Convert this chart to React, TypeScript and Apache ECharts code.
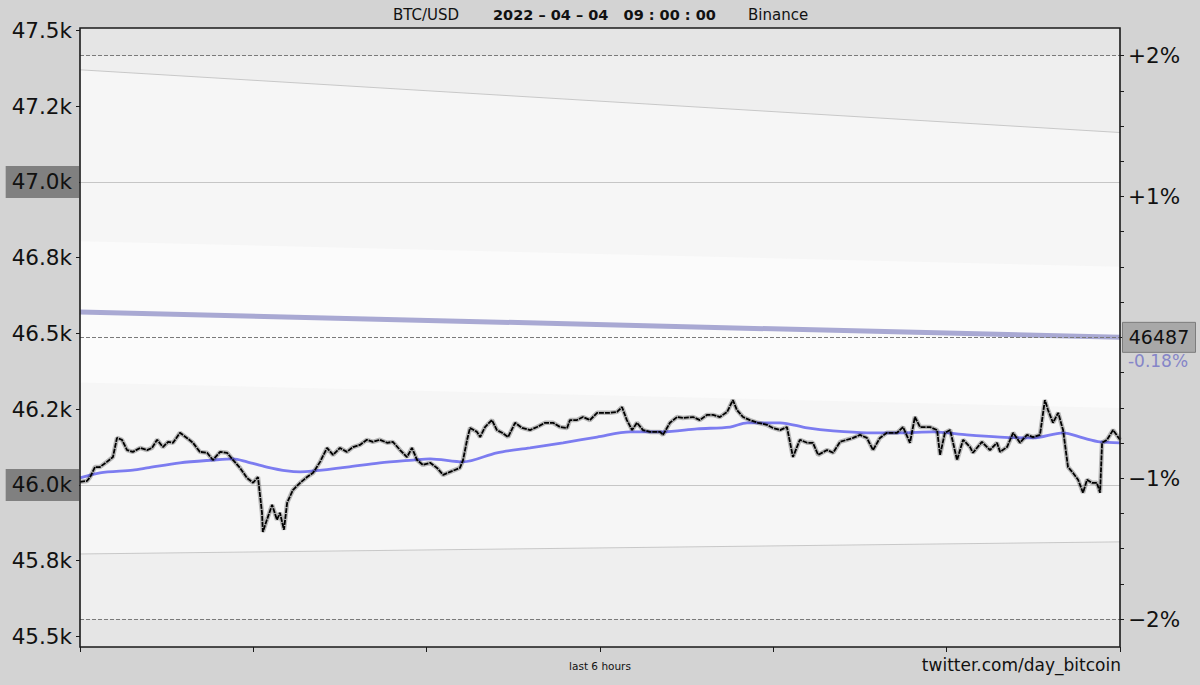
import React, { useEffect, useRef } from "react";
import * as echarts from "echarts";

// ---------- texts ----------
const PAIR = "BTC/USD";
const DATE_TEXT = "2022 – 04 – 04   09 : 00 : 00";
const EXCHANGE = "Binance";
const X_LABEL = "last 6 hours";
const CREDIT = "twitter.com/day_bitcoin";

// ---------- axes ----------
const Y_MIN = 45465;
const Y_MAX = 47508;
const PRICE_TICKS = [45500, 45750, 46000, 46250, 46500, 46750, 47000, 47250, 47500];
const PRICE_TICK_LABELS = ["45.5k", "45.8k", "46.0k", "46.2k", "46.5k", "46.8k", "47.0k", "47.2k", "47.5k"];
const HIGHLIGHT_TICKS = [46000, 47000];
const REF_PRICE = 46487;
const REF_CHANGE = "-0.18%";
const PCT_TICKS = [-2, -1.75, -1.5, -1.25, -1, -0.75, -0.5, -0.25, 0, 0.25, 0.5, 0.75, 1, 1.25, 1.5, 1.75, 2];
const PCT_LABEL_VALUES = [-2, -1, 1, 2];
const PCT_LABELS = ["−2%", "−1%", "+1%", "+2%"];
const HOUR_TICKS = [0, 60, 120, 180, 240, 300, 360];

// ---------- price (minutes into the 6 hour window) ----------
const priceMinutes = [
  0, 2.4, 3.5, 5.2, 6.9, 9.3, 11.4, 12.8, 14.5, 16.3,
  18.3, 20.8, 23.2, 24.9, 26.7, 28.7, 30.5, 32.2, 34.6, 37.0,
  39.1, 41.5, 44.0, 46.0, 48.5, 50.9, 53.0, 55.4, 57.8, 59.9,
  61.6, 63.0, 63.3, 64.7, 66.5, 68.2, 69.2, 70.6, 71.7, 73.7,
  76.2, 78.6, 80.7, 83.1, 85.5, 87.6, 90.0, 92.4, 94.5, 96.9,
  99.3, 101.4, 103.8, 106.3, 108.3, 110.8, 113.2, 114.9, 116.7, 118.7,
  121.2, 123.6, 125.7, 128.1, 131.5, 132.6, 134.0, 135.0, 137.4, 138.5,
  140.2, 142.6, 144.3, 146.1, 148.2, 150.6, 153.0, 155.8, 158.2, 161.0,
  163.7, 166.2, 168.6, 169.6, 172.0, 174.1, 176.5, 179.0, 181.0, 183.5,
  185.9, 187.6, 189.3, 191.1, 192.8, 194.9, 197.3, 200.8, 201.8, 204.2,
  206.7, 208.7, 212.2, 214.6, 217.0, 219.1, 221.5, 224.0, 226.0, 227.4,
  229.5, 231.9, 234.7, 237.8, 239.9, 242.3, 244.7, 245.8, 246.8, 249.2,
  251.7, 253.7, 255.5, 258.6, 260.7, 263.1, 265.5, 267.6, 270.0, 272.4,
  274.5, 276.9, 279.3, 282.8, 284.9, 287.3, 289.0, 290.8, 294.2, 296.7,
  297.7, 299.4, 301.2, 303.6, 305.7, 308.1, 309.1, 312.2, 315.0, 317.4,
  318.5, 320.9, 323.0, 325.4, 327.8, 329.9, 332.3, 334.0, 335.1, 336.8,
  338.6, 340.3, 342.0, 343.7, 345.5, 347.2, 348.6, 350.3, 352.0, 353.1,
  353.8, 355.5, 357.6, 360,
];
const prices = [
  46010, 46013, 46026, 46059, 46059, 46076, 46092, 46155, 46149, 46115,
  46109, 46122, 46115, 46122, 46149, 46125, 46142, 46139, 46172, 46155,
  46139, 46109, 46106, 46082, 46109, 46106, 46082, 46056, 46023, 46007,
  46026, 45908, 45845, 45885, 45934, 45885, 45908, 45852, 45941, 45983,
  46007, 46026, 46040, 46076, 46122, 46099, 46122, 46109, 46125, 46132,
  46149, 46142, 46149, 46139, 46142, 46115, 46092, 46122, 46082, 46066,
  46073, 46056, 46033, 46043, 46056, 46082, 46149, 46188, 46175, 46158,
  46191, 46214, 46181, 46172, 46158, 46205, 46188, 46181, 46191, 46205,
  46205, 46191, 46188, 46214, 46214, 46224, 46214, 46238, 46238, 46238,
  46241, 46257, 46214, 46181, 46205, 46181, 46175, 46175, 46165, 46205,
  46224, 46221, 46224, 46214, 46231, 46231, 46224, 46241, 46280, 46247,
  46224, 46214, 46205, 46198, 46188, 46181, 46191, 46139, 46092, 46149,
  46139, 46139, 46099, 46115, 46106, 46142, 46149, 46155, 46165, 46155,
  46115, 46155, 46172, 46172, 46191, 46139, 46224, 46191, 46191, 46181,
  46099, 46172, 46181, 46082, 46149, 46125, 46106, 46142, 46115, 46139,
  46109, 46125, 46172, 46139, 46165, 46158, 46165, 46280, 46247, 46205,
  46238, 46181, 46059, 46040, 46017, 45974, 46017, 46007, 46007, 45974,
  46139, 46149, 46181, 46149,
];

// ---------- moving average ----------
const maMinutes = [
  0, 6.9, 18.3, 23.2, 34.6, 46.0, 53.0, 57.8, 64.7, 71.7,
  76.2, 80.7, 92.4, 103.8, 115.3, 121.2, 132.6, 144.3, 155.8, 167.2,
  179.0, 190.4, 201.8, 213.6, 225.0, 230.9, 242.3, 251.7, 260.7, 272.4,
  283.8, 295.3, 307.0, 318.5, 329.9, 340.3, 347.2, 353.1, 360,
];
const maValues = [
  46023, 46040, 46049, 46056, 46073, 46082, 46086, 46076, 46059, 46046,
  46043, 46046, 46059, 46073, 46082, 46086, 46076, 46106, 46122, 46139,
  46158, 46175, 46175, 46185, 46191, 46205, 46205, 46188, 46178, 46172,
  46172, 46175, 46165, 46158, 46155, 46172, 46155, 46142, 46139,
];

// ---------- trend channel ----------
const trendMinutes = [0, 360];
const trendCenter = [46571, 46487];
const trendOuterUpper = [47370, 47163];
const trendOuterLower = [45772, 45812];
const trendInnerUpper = [46804, 46720];
const trendInnerLower = [46338, 46254];

const FONT = "DejaVu Sans, Noto Sans, sans-serif";
const AXIS_COLOR = "#1a1a1a";
const zip = (xs: number[], ys: number[]) => xs.slice(0, Math.min(xs.length, ys.length)).map((x, i) => [x, ys[i]]);

function band(upper: number[], lower: number[], color: string, z: number) {
  return {
    type: "custom",
    z,
    silent: true,
    data: [[trendMinutes[0], trendCenter[0]]],
    renderItem: (_p: any, api: any) => {
      const top = trendMinutes.map((m, i) => api.coord([m, upper[i]]));
      const bot = trendMinutes.map((m, i) => api.coord([m, lower[i]])).reverse();
      return { type: "polygon", shape: { points: [...top, ...bot] }, style: { fill: color } };
    },
  };
}

function plainLine(xs: number[], ys: number[], color: string, width: number, z: number, extra: any = {}) {
  return {
    type: "line",
    z,
    silent: true,
    showSymbol: false,
    symbol: "none",
    data: zip(xs, ys),
    lineStyle: { color, width },
    ...extra,
  };
}

export default function App() {
  const ref = useRef<HTMLDivElement>(null);
  useEffect(() => {
    const chart = echarts.init(ref.current!, null, { renderer: "svg" });
    const pctPrice = (p: number) => REF_PRICE * (1 + p / 100);
    const option: any = {
      animation: false,
      backgroundColor: "#d3d3d3",
      textStyle: { fontFamily: FONT },
      grid: {
        left: 80, right: 80, top: 28, bottom: 38,
        containLabel: false, outerBoundsMode: "none",
        show: true, backgroundColor: "#efefef", borderWidth: 0,
      },
      xAxis: {
        type: "value", min: 0, max: 360, interval: 60, position: "bottom",
        axisLine: { show: false },
        axisTick: { show: true, length: 5, inside: false, lineStyle: { color: AXIS_COLOR, width: 1 }, customValues: HOUR_TICKS },
        axisLabel: { show: false },
        splitLine: { show: false },
      },
      yAxis: [
        {
          type: "value", min: Y_MIN, max: Y_MAX, position: "left",
          axisLine: { show: false },
          splitLine: { show: false },
          axisTick: { show: true, length: 4, lineStyle: { color: AXIS_COLOR }, customValues: PRICE_TICKS },
          axisLabel: {
            show: true, customValues: PRICE_TICKS, margin: 1,
            formatter: (v: number) => {
              const i = PRICE_TICKS.findIndex((t) => Math.abs(t - v) < 1);
              const txt = i >= 0 ? PRICE_TICK_LABELS[i] : "";
              return HIGHLIGHT_TICKS.some((h) => Math.abs(h - v) < 1) ? `{hl|${txt}}` : `{n|${txt}}`;
            },
            rich: {
              n: { fontFamily: FONT, fontSize: 21.5, color: "#111", padding: [5, 7, 5, 6] },
              hl: { fontFamily: FONT, fontSize: 21.5, color: "#111", padding: [5, 7, 5, 6], backgroundColor: "#808080" },
            },
          },
        },
        {
          type: "value", min: Y_MIN, max: Y_MAX, position: "right",
          axisLine: { show: false, onZero: false },
          splitLine: { show: false },
          axisTick: { show: true, length: 4, lineStyle: { color: AXIS_COLOR }, customValues: PCT_TICKS.map(pctPrice) },
          axisLabel: {
            show: true, margin: 8, customValues: PCT_LABEL_VALUES.map(pctPrice),
            fontFamily: FONT, fontSize: 21.5, color: "#111",
            formatter: (v: number) => {
              const p = (v / REF_PRICE - 1) * 100;
              const i = PCT_LABEL_VALUES.findIndex((t) => Math.abs(t - p) < 0.05);
              return i >= 0 ? PCT_LABELS[i] : "";
            },
          },
        },
      ],
      series: [
        band(trendOuterUpper, trendOuterLower, "#f6f6f6", 1),
        band(trendInnerUpper, trendInnerLower, "#fbfbfb", 1),
        {
          type: "line", z: 2, silent: true, showSymbol: false,
          data: [[trendMinutes[0], REF_PRICE]],
          lineStyle: { opacity: 0 },
          markArea: {
            silent: true,
            itemStyle: { color: "#e5e5e5" },
            data: [
              [{ yAxis: pctPrice(2) }, { yAxis: Y_MAX }],
              [{ yAxis: Y_MIN }, { yAxis: pctPrice(-2) }],
            ],
          },
          markLine: {
            silent: true, symbol: "none", label: { show: false },
            lineStyle: { color: "#c6c6c6", width: 1.2, type: "solid" },
            data: HIGHLIGHT_TICKS.map((v) => ({ yAxis: v })),
          },
        },
        plainLine(trendMinutes, trendOuterUpper, "#c8c8c8", 1, 3),
        plainLine(trendMinutes, trendOuterLower, "#c8c8c8", 1, 3),
        plainLine(trendMinutes, trendCenter, "#a9a9d3", 5, 3),
        {
          type: "line", z: 4, silent: true, showSymbol: false,
          data: [[trendMinutes[0], REF_PRICE]],
          lineStyle: { opacity: 0 },
          markLine: {
            silent: true, symbol: "none", label: { show: false },
            lineStyle: { color: "#7a7a7a", width: 1, type: [4, 2] },
            data: [{ yAxis: pctPrice(2) }, { yAxis: REF_PRICE }, { yAxis: pctPrice(-2) }],
          },
        },
        plainLine(maMinutes, maValues, "#7c7cf0", 2.8, 5, { smooth: 0.3 }),
        plainLine(priceMinutes, prices, "rgba(0,0,0,0.25)", 4.5, 6),
        plainLine(priceMinutes, prices, "#000000", 1.8, 7, { lineStyle: { color: "#000000", width: 1.8, type: [5, 1] } }),
      ],
    };
    chart.setOption(option);

    const [px, py] = chart.convertToPixel({ gridIndex: 0 }, [trendMinutes[1], REF_PRICE]) as number[];
    const [x0, yTop] = chart.convertToPixel({ gridIndex: 0 }, [0, Y_MAX]) as number[];
    const [x1, yBot] = chart.convertToPixel({ gridIndex: 0 }, [360, Y_MIN]) as number[];
    chart.setOption({
      graphic: [
        { type: "text", x: 393, y: 15, style: { text: PAIR, fontFamily: FONT, fontSize: 15, fill: "#111", textVerticalAlign: "middle" } },
        { type: "text", x: 493, y: 15, style: { text: DATE_TEXT, fontFamily: FONT, fontSize: 14.5, fontWeight: "bold", fill: "#111", textVerticalAlign: "middle" } },
        { type: "text", x: 748, y: 15, style: { text: EXCHANGE, fontFamily: FONT, fontSize: 15, fill: "#111", textVerticalAlign: "middle" } },
        { type: "text", x: 600, y: 666, style: { text: X_LABEL, fontFamily: FONT, fontSize: 10.5, fill: "#111", textAlign: "center", textVerticalAlign: "middle" } },
        { type: "text", x: 1121, y: 665, style: { text: CREDIT, fontFamily: FONT, fontSize: 17, fill: "#111", textAlign: "right", textVerticalAlign: "middle" } },
        {
          type: "rect", z: 40, silent: true,
          shape: { x: x0, y: yTop, width: x1 - x0, height: yBot - yTop },
          style: { fill: "none", stroke: AXIS_COLOR, lineWidth: 1.6 },
        },
        { type: "rect", z: 30, shape: { x: px + 2.5, y: py - 15, width: 73, height: 30 }, style: { fill: "#a8a8a8", stroke: "#7c7c7c", lineWidth: 1 } },
        { type: "text", z: 31, x: px + 39, y: py, style: { text: String(REF_PRICE), fontFamily: FONT, fontSize: 19, fill: "#111", textAlign: "center", textVerticalAlign: "middle" } },
        { type: "text", z: 31, x: px + 38, y: py + 24, style: { text: REF_CHANGE, fontFamily: FONT, fontSize: 17, fill: "#8585c8", textAlign: "center", textVerticalAlign: "middle" } },
      ],
    });
    return () => chart.dispose();
  }, []);
  return (
    <div
      ref={ref}
      style={{ position: "fixed", left: 0, top: 0, width: 1200, height: 685, background: "#d3d3d3" }}
    />
  );
}
